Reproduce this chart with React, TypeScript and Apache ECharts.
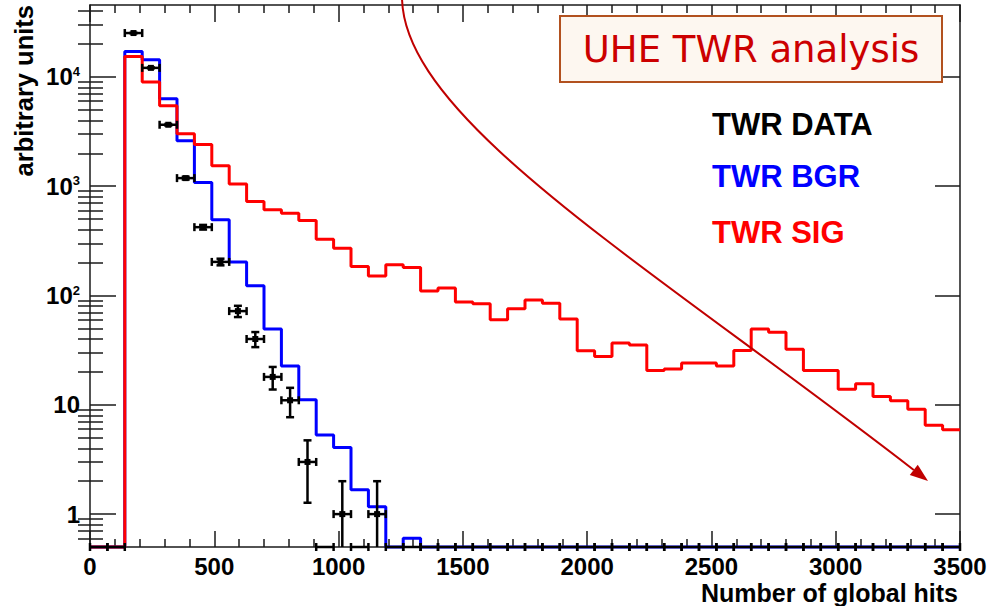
import React, { useEffect, useRef } from "react";
import * as echarts from "echarts";

// Histogram binning (number of global hits), 50 bins of width 70
const BIN_EDGES = [
  0, 70, 140, 210, 280, 350, 420, 490, 560, 630, 700, 770, 840, 910, 980, 1050, 1120,
  1190, 1260, 1330, 1400, 1470, 1540, 1610, 1680, 1750, 1820, 1890, 1960, 2030, 2100,
  2170, 2240, 2310, 2380, 2450, 2520, 2590, 2660, 2730, 2800, 2870, 2940, 3010, 3080,
  3150, 3220, 3290, 3360, 3430, 3500,
];

// TWR DATA: counts per bin and their errors
const DATA_COUNTS = [
  0, 0, 25200, 12100, 3650, 1186, 422, 203, 72, 40, 18, 11, 3, 0, 1, 0, 1, 0, 0, 0,
  0, 0, 0, 0, 0, 0, 0, 0, 0, 0, 0, 0, 0, 0, 0, 0, 0, 0, 0, 0,
  0, 0, 0, 0, 0, 0, 0, 0, 0, 0,
];
const DATA_ERRORS = [
  0, 0, 158.7, 110, 60.4, 34.4, 20.5, 14.2, 8.5, 6.3, 4.2, 3.3, 1.73, 0, 1, 0, 1, 0, 0, 0,
  0, 0, 0, 0, 0, 0, 0, 0, 0, 0, 0, 0, 0, 0, 0, 0, 0, 0, 0, 0,
  0, 0, 0, 0, 0, 0, 0, 0, 0, 0,
];

// TWR BGR
const BGR_VALUES = [
  0, 0, 17100, 14350, 6300, 2600, 1080, 493, 203, 123, 49.3, 22.7, 11.1, 5.3, 4.07, 1.67,
  1.17, 0, 0.6, 0, 0, 0, 0, 0, 0, 0, 0, 0, 0, 0, 0, 0, 0, 0, 0, 0, 0, 0, 0, 0,
  0, 0, 0, 0, 0, 0, 0, 0, 0, 0,
];

// TWR SIG
const SIG_VALUES = [
  0, 0, 15370, 9000, 5450, 3015, 2410, 1537, 1045, 724, 608, 567, 486, 328, 271, 184,
  151, 191, 180, 110, 117, 87, 84, 60, 75.5, 91, 85, 61, 31.2, 27.7, 36.7, 35.2, 20.6,
  21.3, 24.1, 24.1, 22.7, 31.4, 49.3, 46.2, 32.3, 20.6, 20.6, 13.9, 15.6, 11.9, 10.9,
  9.1, 6.5, 5.9,
];

const X_MIN = 0;
const X_MAX = 3500;
const X_INTERVAL = 500;
const Y_MIN = 0.5;
const Y_MAX = 45500;
const Y_MAJOR = [1, 10, 100, 1000, 10000];
const Y_MINOR = [
  0.6, 0.7, 0.8, 0.9, 2, 3, 4, 5, 6, 7, 8, 9, 20, 30, 40, 50, 60, 70, 80, 90,
  200, 300, 400, 500, 600, 700, 800, 900, 2000, 3000, 4000, 5000, 6000, 7000, 8000,
  9000, 20000, 30000, 40000,
];

const LEGEND_ITEMS = [
  { name: "TWR DATA", color: "#000000" },
  { name: "TWR BGR", color: "#0000ff" },
  { name: "TWR SIG", color: "#ff0000" },
];
const X_TITLE = "Number of global hits";
const Y_TITLE = "arbitrary units";
const ANNOTATION = "UHE TWR analysis";

const FONT = "'Liberation Sans', Arial, Helvetica, sans-serif";
const AXIS_COLOR = "#1a1a1a";

function stepPoints(values: number[]) {
  const pts: number[][] = values.map((v, i) => [BIN_EDGES[i], v > Y_MIN ? v : Y_MIN]);
  const last = values[values.length - 1];
  pts.push([BIN_EDGES[values.length], last > Y_MIN ? last : Y_MIN]);
  return pts;
}

const SUP: Record<number, string> = { 100: "2", 1000: "3", 10000: "4" };
function yLabel(v: number) {
  const r = Math.round(v);
  if (SUP[r]) return `{b|10}{s|${SUP[r]}}`;
  return `{b|${r}}`;
}

export default function App() {
  const ref = useRef<HTMLDivElement>(null);

  useEffect(() => {
    document.body.style.margin = "0";
    if (!ref.current) return;
    const chart = echarts.init(ref.current, undefined, { renderer: "svg" });

    const dataItems = DATA_COUNTS.map((c, i) => [BIN_EDGES[i], BIN_EDGES[i + 1], c, DATA_ERRORS[i]]);

    const yCommon = {
      type: "log" as const,
      logBase: 10,
      min: Y_MIN,
      max: Y_MAX,
      splitLine: { show: false },
      minorTick: { show: false },
    };
    const xCommon = {
      type: "value" as const,
      min: X_MIN,
      max: X_MAX,
      interval: X_INTERVAL,
      splitLine: { show: false },
      minorSplitLine: { show: false },
    };
    const lineStyleAxis = { color: AXIS_COLOR, width: 1.5 };

    const arrowTip = [928, 481];
    const arrowCp2 = [645, 262];
    const dx = arrowTip[0] - arrowCp2[0];
    const dy = arrowTip[1] - arrowCp2[1];
    const dl = Math.sqrt(dx * dx + dy * dy);
    const ux = dx / dl;
    const uy = dy / dl;
    const headLen = 18;
    const headHalf = 6.5;
    const base = [arrowTip[0] - headLen * ux, arrowTip[1] - headLen * uy];

    chart.setOption({
      animation: false,
      backgroundColor: "#ffffff",
      grid: { left: 90, top: 5, width: 870, height: 542, containLabel: false },
      xAxis: [
        {
          ...xCommon,
          position: "bottom",
          axisLine: { show: true, onZero: false, lineStyle: lineStyleAxis },
          axisTick: { show: true, inside: true, length: 16, lineStyle: lineStyleAxis },
          minorTick: { show: true, splitNumber: 5, length: 8, lineStyle: lineStyleAxis },
          axisLabel: {
            show: true,
            margin: 7,
            formatter: (v: number) => String(v),
            fontFamily: FONT,
            fontWeight: "bold",
            fontSize: 24,
            color: "#000",
          },
        },
        {
          ...xCommon,
          position: "top",
          axisLine: { show: true, onZero: false, lineStyle: lineStyleAxis },
          axisTick: { show: true, inside: true, length: 17, lineStyle: lineStyleAxis },
          minorTick: { show: true, splitNumber: 5, length: 8, lineStyle: lineStyleAxis },
          axisLabel: { show: false },
        },
      ],
      yAxis: [
        {
          ...yCommon,
          position: "left",
          axisLine: { show: true, onZero: false, lineStyle: lineStyleAxis },
          axisTick: { show: true, inside: true, length: 26, customValues: Y_MAJOR, lineStyle: lineStyleAxis },
          axisLabel: {
            show: true,
            customValues: Y_MAJOR,
            margin: 10,
            formatter: yLabel,
            rich: {
              b: { fontFamily: FONT, fontWeight: "bold", fontSize: 24, lineHeight: 24, color: "#000" },
              s: { fontFamily: FONT, fontWeight: "bold", fontSize: 13, lineHeight: 13, color: "#000", verticalAlign: "top" },
            },
          },
        },
        {
          ...yCommon,
          position: "left",
          axisLine: { show: false },
          axisTick: { show: true, inside: true, length: 13, customValues: Y_MINOR, lineStyle: lineStyleAxis },
          axisLabel: { show: false },
        },
        {
          ...yCommon,
          position: "right",
          axisLine: { show: true, onZero: false, lineStyle: lineStyleAxis },
          axisTick: { show: true, inside: true, length: 25, customValues: Y_MAJOR, lineStyle: lineStyleAxis },
          axisLabel: { show: false },
        },
        {
          ...yCommon,
          position: "right",
          axisLine: { show: false },
          axisTick: { show: true, inside: true, length: 12, customValues: Y_MINOR, lineStyle: lineStyleAxis },
          axisLabel: { show: false },
        },
      ],
      series: [
        {
          name: "TWR BGR",
          type: "line",
          xAxisIndex: 0,
          yAxisIndex: 0,
          step: "end",
          symbol: "none",
          clip: false,
          data: stepPoints(BGR_VALUES),
          lineStyle: { color: "#0000ff", width: 3 },
          z: 3,
        },
        {
          name: "TWR SIG",
          type: "line",
          xAxisIndex: 0,
          yAxisIndex: 0,
          step: "end",
          symbol: "none",
          clip: false,
          data: stepPoints(SIG_VALUES),
          lineStyle: { color: "#ff0000", width: 3 },
          z: 4,
        },
        {
          name: "TWR DATA",
          type: "custom",
          xAxisIndex: 0,
          yAxisIndex: 0,
          clip: false,
          z: 5,
          encode: { x: [0, 1], y: 2 },
          data: dataItems,
          renderItem: (params: any, api: any) => {
            const x0 = api.value(0);
            const x1 = api.value(1);
            const c = api.value(2);
            const e = api.value(3);
            const yv = c > 0 ? c : Y_MIN;
            const pL = api.coord([x0, yv]);
            const pR = api.coord([x1, yv]);
            const xc = (pL[0] + pR[0]) / 2;
            const st = { stroke: "#000", lineWidth: 2.5 };
            const children: any[] = [
              { type: "line", shape: { x1: pL[0], y1: pL[1], x2: pR[0], y2: pR[1] }, style: st },
              { type: "line", shape: { x1: pL[0], y1: pL[1] - 4, x2: pL[0], y2: pL[1] + 4 }, style: st },
              { type: "line", shape: { x1: pR[0], y1: pR[1] - 4, x2: pR[0], y2: pR[1] + 4 }, style: st },
            ];
            if (c > 0) {
              const hiV = c + e;
              const loV = c - e;
              const pHi = api.coord([x0, hiV]);
              const pLo = api.coord([x0, loV > Y_MIN ? loV : Y_MIN]);
              children.push({ type: "line", shape: { x1: xc, y1: pHi[1], x2: xc, y2: pLo[1] }, style: st });
              children.push({ type: "line", shape: { x1: xc - 4, y1: pHi[1], x2: xc + 4, y2: pHi[1] }, style: st });
              if (loV > Y_MIN) {
                children.push({ type: "line", shape: { x1: xc - 4, y1: pLo[1], x2: xc + 4, y2: pLo[1] }, style: st });
              }
              children.push({ type: "rect", shape: { x: xc - 3, y: pL[1] - 3, width: 6, height: 6 }, style: { fill: "#000" } });
            }
            return { type: "group", children };
          },
        },
      ],
      graphic: [
        {
          type: "text",
          z: 50,
          x: 24,
          y: 5,
          rotation: Math.PI / 2,
          style: {
            text: Y_TITLE,
            fontFamily: FONT,
            fontWeight: "bold",
            fontSize: 25.5,
            fill: "#000",
            align: "right",
            verticalAlign: "middle",
          },
        },
        {
          type: "text",
          z: 50,
          x: 958,
          y: 592.5,
          style: {
            text: X_TITLE,
            fontFamily: FONT,
            fontWeight: "bold",
            fontSize: 25,
            fill: "#000",
            align: "right",
            verticalAlign: "middle",
          },
        },
        ...LEGEND_ITEMS.map((it, i) => ({
          type: "text",
          z: 50,
          x: 712,
          y: [124.5, 176, 232.5][i],
          style: {
            text: it.name,
            fontFamily: FONT,
            fontWeight: "bold",
            fontSize: 31,
            fill: it.color,
            align: "left",
            verticalAlign: "middle",
          },
        })),
        {
          type: "rect",
          z: 60,
          shape: { x: 560, y: 16, width: 382, height: 66 },
          style: { fill: "#fdf7f0", stroke: "#b2511f", lineWidth: 2 },
        },
        {
          type: "text",
          z: 61,
          x: 751,
          y: 49.5,
          style: {
            text: ANNOTATION,
            fontFamily: "'DejaVu Sans', Verdana, sans-serif",
            fontSize: 37,
            fill: "#cc0000",
            align: "center",
            verticalAlign: "middle",
          },
        },
        {
          type: "bezierCurve",
          z: 70,
          shape: {
            x1: 402,
            y1: -2,
            cpx1: 404,
            cpy1: 120,
            cpx2: arrowCp2[0],
            cpy2: arrowCp2[1],
            x2: base[0],
            y2: base[1],
          },
          style: { stroke: "#c00000", lineWidth: 2, fill: null },
        },
        {
          type: "polygon",
          z: 70,
          shape: {
            points: [
              arrowTip,
              [base[0] - headHalf * uy, base[1] + headHalf * ux],
              [base[0] + headHalf * uy, base[1] - headHalf * ux],
            ],
          },
          style: { fill: "#c00000" },
        },
      ],
    });

    return () => chart.dispose();
  }, []);

  return <div ref={ref} style={{ width: 996, height: 606 }} />;
}
